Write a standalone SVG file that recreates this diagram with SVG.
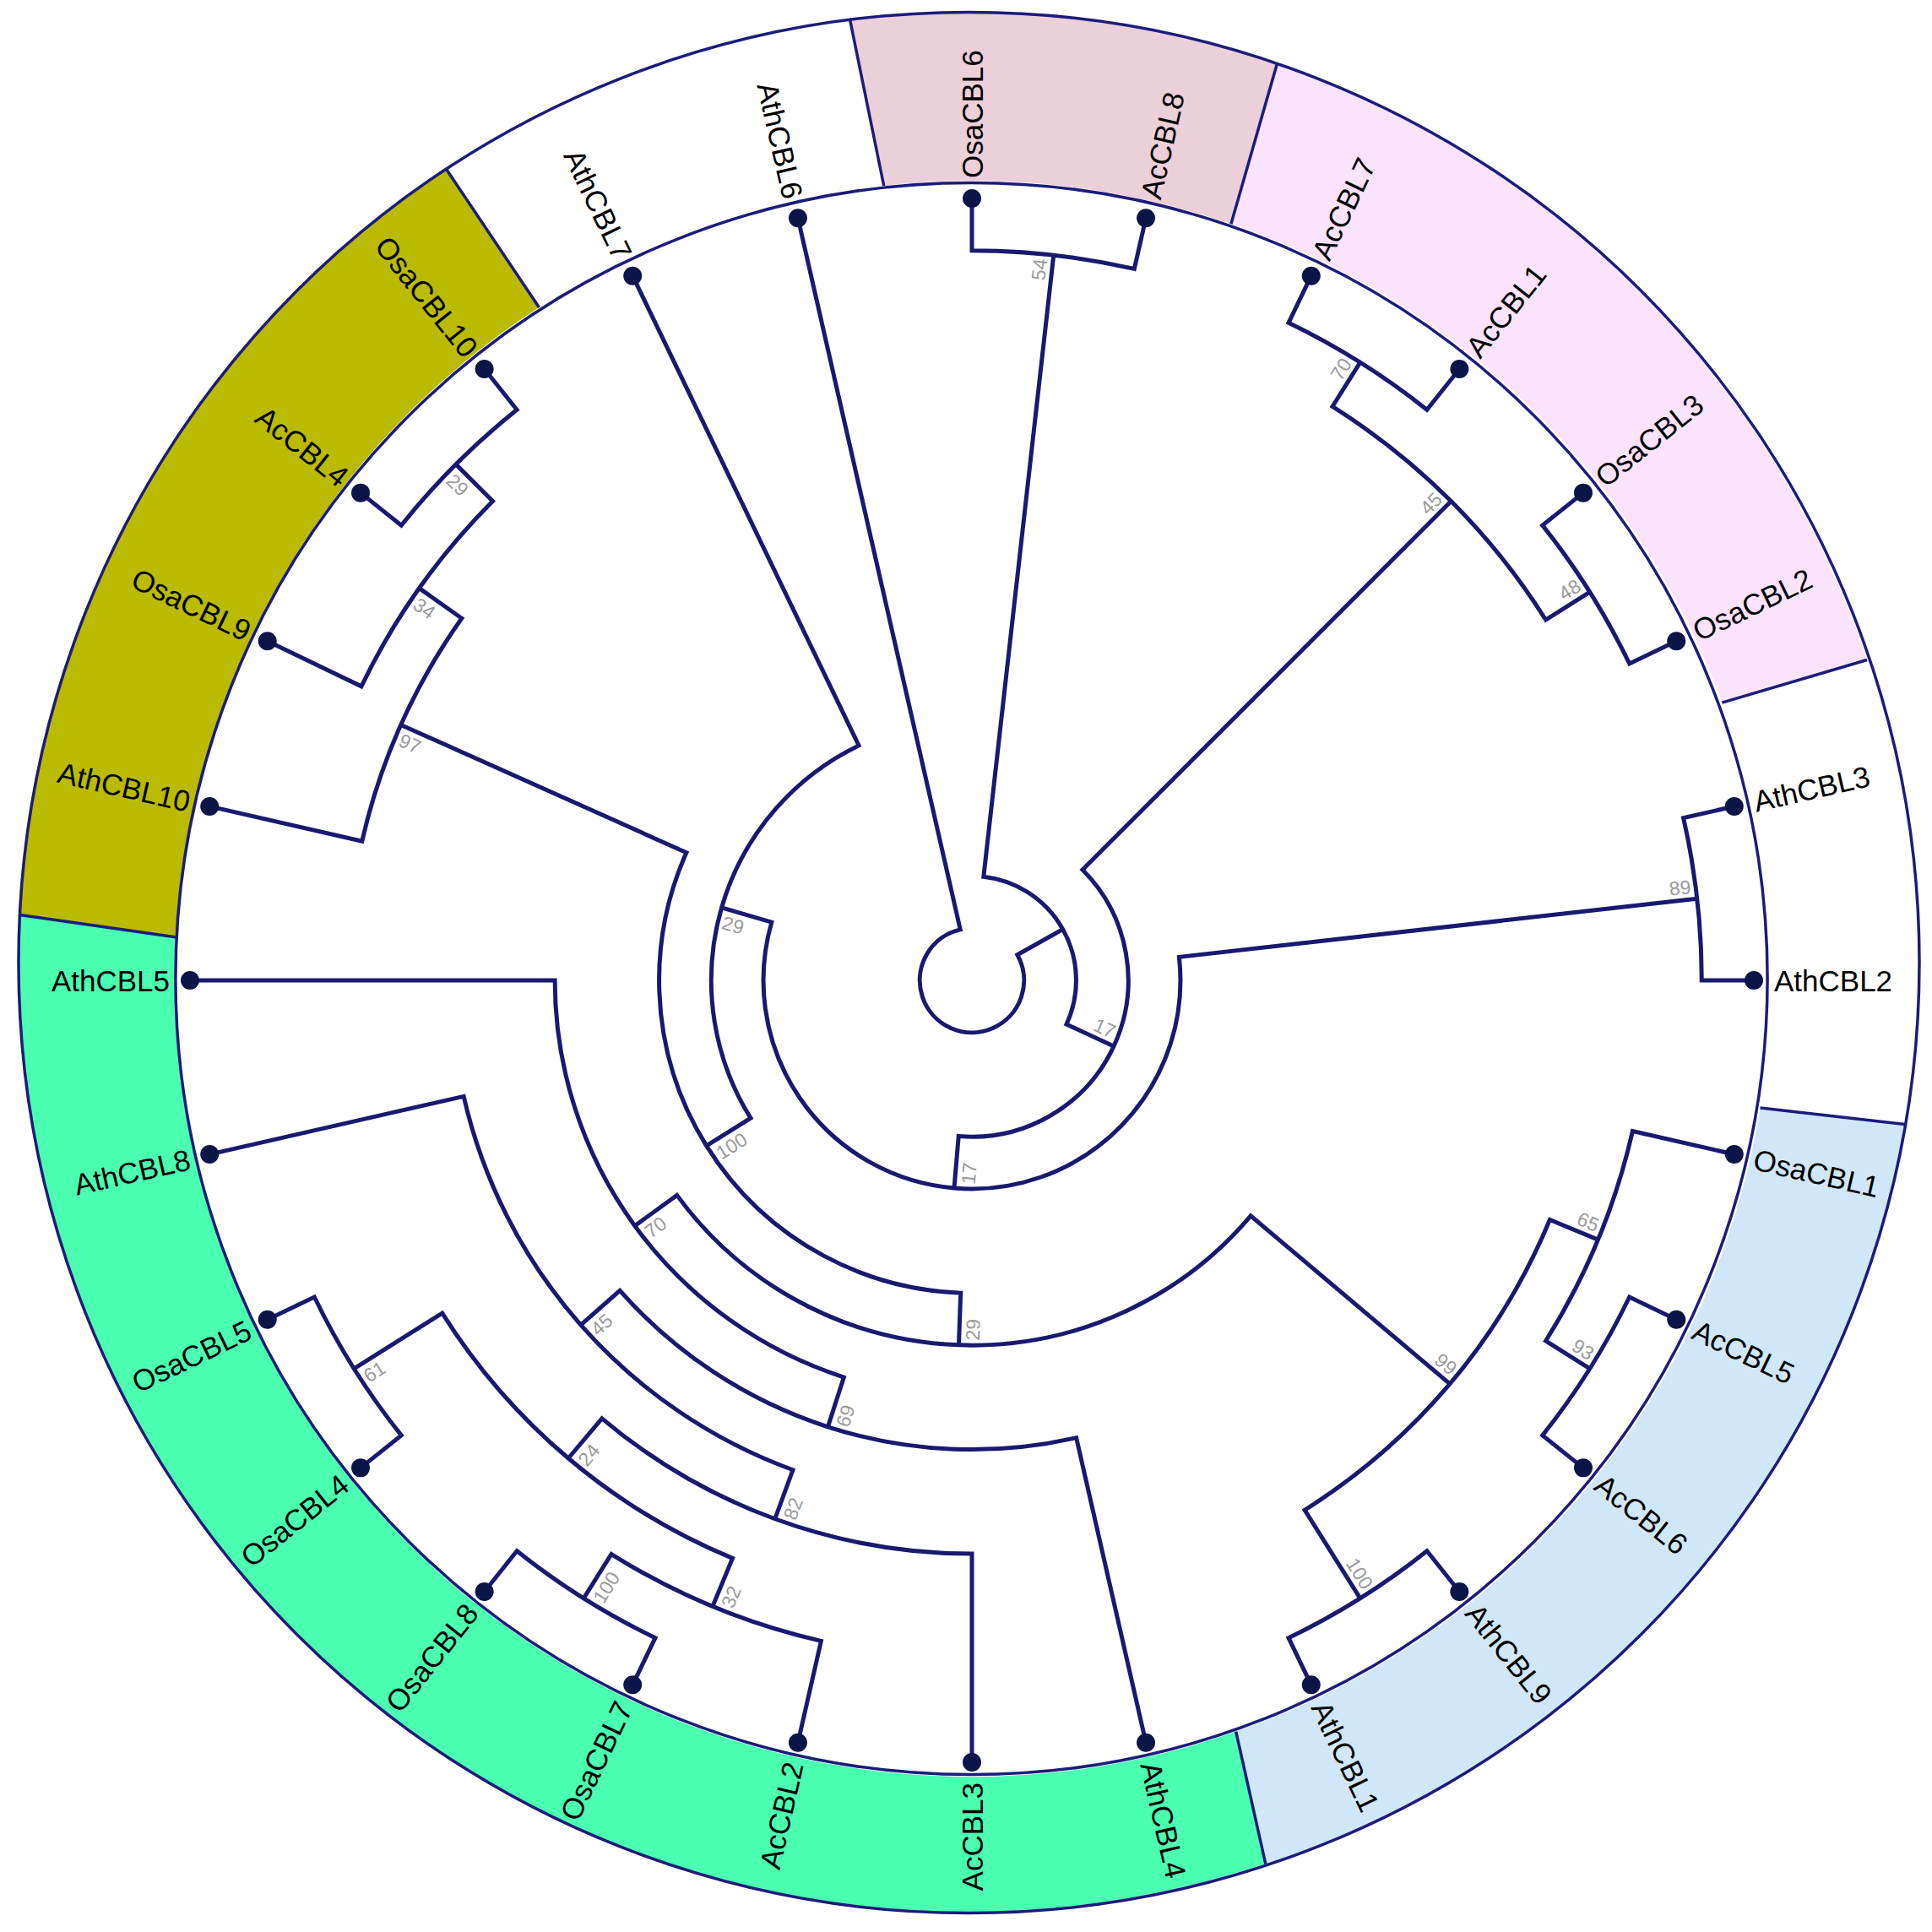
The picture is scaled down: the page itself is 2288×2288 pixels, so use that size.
<svg xmlns="http://www.w3.org/2000/svg" width="2288" height="2288" viewBox="0 0 2288 2288">
<style>
.ring{fill:none;stroke:#1c1c7a;stroke-width:3.5}
.bd{stroke:#1c1c7a;stroke-width:3.5}
.br{fill:none;stroke:#191970;stroke-width:5;stroke-linejoin:miter}
.dot{fill:#0c1548}
.lab{font-family:"Liberation Sans",Arial,sans-serif;font-size:35px;fill:#000}
.ls{text-anchor:end}
.bs{font-family:"Liberation Sans",Arial,sans-serif;font-size:23px;fill:#9a9a9a}
.be{text-anchor:end}
</style>
<rect width="2288" height="2288" fill="#ffffff"/>
<g id="ring">
<path d="M1046.7 220 A942.6 942.6 0 0 1 1457.9 265.2 L1512.4 75.4 A1125.5 1125.5 0 0 0 1006.3 21.9 Z" fill="#EBCFD9"/>
<path d="M1457.9 265.2 A942.6 942.6 0 0 1 2039.4 832.1 L2211 781.5 A1125.5 1125.5 0 0 0 1512.4 75.4 Z" fill="#FAE3FC"/>
<path d="M2084.6 1311.9 A942.6 942.6 0 0 1 1463.7 2050.6 L1498.8 2207.3 A1125.5 1125.5 0 0 0 2255.9 1331.4 Z" fill="#D0E7F9"/>
<path d="M1463.7 2050.6 A942.6 942.6 0 0 1 209.2 1110 L21.9 1083.2 A1125.5 1125.5 0 0 0 1498.8 2207.3 Z" fill="#4BFFB1"/>
<path d="M209.2 1110 A942.6 942.6 0 0 1 638.4 364 L528 199.5 A1125.5 1125.5 0 0 0 21.9 1083.2 Z" fill="#BABA00"/>
<circle class="ring" cx="1150.5" cy="1159" r="942.6"/>
<circle class="ring" cx="1147.5" cy="1140" r="1125.5"/>
<line class="bd" x1="638.4" y1="364" x2="528" y2="199.5"/>
<line class="bd" x1="1046.7" y1="220" x2="1006.3" y2="21.9"/>
<line class="bd" x1="1457.9" y1="265.2" x2="1512.4" y2="75.4"/>
<line class="bd" x1="2039.4" y1="832.1" x2="2211" y2="781.5"/>
<line class="bd" x1="2084.6" y1="1311.9" x2="2255.9" y2="1331.4"/>
<line class="bd" x1="1463.7" y1="2050.6" x2="1498.8" y2="2207.3"/>
<line class="bd" x1="209.2" y1="1110" x2="21.9" y2="1083.2"/>
</g>
<g id="connectors" transform="translate(1151 1161)">
<path class="br" d="M0 -926 L0 -864.27 A864.27 864.27 0 0 1 192.32 -842.6 L206.05 -902.78"/>
<path class="br" d="M401.78 -834.3 L374.99 -778.68 A864.27 864.27 0 0 1 538.86 -675.71 L577.35 -723.98"/>
<path class="br" d="M723.98 -577.35 L675.71 -538.86 A864.27 864.27 0 0 1 778.68 -374.99 L834.3 -401.78"/>
<path class="br" d="M459.82 -731.8 L426.97 -679.52 A802.53 802.53 0 0 1 679.52 -426.97 L731.8 -459.82"/>
<path class="br" d="M902.78 -206.05 L842.6 -192.32 A864.27 864.27 0 0 1 864.27 0 L926 0"/>
<path class="br" d="M834.3 401.78 L778.68 374.99 A864.27 864.27 0 0 1 675.71 538.86 L723.98 577.35"/>
<path class="br" d="M902.78 206.05 L782.41 178.58 A802.53 802.53 0 0 1 679.52 426.97 L731.8 459.82"/>
<path class="br" d="M577.35 723.98 L538.86 675.71 A864.27 864.27 0 0 1 374.99 778.68 L401.78 834.3"/>
<path class="br" d="M741.44 307.11 L684.41 283.49 A740.8 740.8 0 0 1 394.13 627.25 L459.82 731.8"/>
<path class="br" d="M-401.78 834.3 L-374.99 778.68 A864.27 864.27 0 0 1 -538.86 675.71 L-577.35 723.98"/>
<path class="br" d="M-206.05 902.78 L-178.58 782.41 A802.53 802.53 0 0 1 -426.97 679.52 L-459.82 731.8"/>
<path class="br" d="M-723.98 577.35 L-675.71 538.86 A864.27 864.27 0 0 1 -778.68 374.99 L-834.3 401.78"/>
<path class="br" d="M-307.11 741.44 L-283.49 684.41 A740.8 740.8 0 0 1 -627.25 394.13 L-731.8 459.82"/>
<path class="br" d="M0 926 L0 679.07 A679.07 679.07 0 0 1 -438.12 518.84 L-477.95 566"/>
<path class="br" d="M-233.25 637.76 L-212.04 579.77 A617.33 617.33 0 0 1 -601.85 137.37 L-902.78 206.05"/>
<path class="br" d="M206.05 902.78 L123.63 541.67 A555.6 555.6 0 0 1 -416.87 367.31 L-463.18 408.12"/>
<path class="br" d="M-170.58 528.77 L-151.63 470.02 A493.87 493.87 0 0 1 -493.87 0 L-926 0"/>
<path class="br" d="M566 477.95 L330.17 278.8 A432.13 432.13 0 0 1 -349.33 254.37 L-399.24 290.71"/>
<path class="br" d="M-723.98 -577.35 L-675.71 -538.86 A864.27 864.27 0 0 1 -538.86 -675.71 L-577.35 -723.98"/>
<path class="br" d="M-834.3 -401.78 L-723.05 -348.2 A802.53 802.53 0 0 1 -567.47 -567.47 L-611.13 -611.13"/>
<path class="br" d="M-902.78 -206.05 L-722.23 -164.84 A740.8 740.8 0 0 1 -604.17 -428.68 L-654.51 -464.4"/>
<path class="br" d="M-15.53 431.85 L-13.31 370.16 A370.4 370.4 0 0 1 -338.1 -151.29 L-676.19 -302.58"/>
<path class="br" d="M-314.4 195.83 L-262.01 163.19 A308.67 308.67 0 0 1 -133.93 -278.1 L-401.78 -834.3"/>
<path class="br" d="M858.84 -96.77 L245.38 -27.65 A246.93 246.93 0 1 1 -237.15 -68.83 L-296.44 -86.04"/>
<path class="br" d="M567.47 -567.47 L130.96 -130.96 A185.2 185.2 0 0 1 -15.75 184.53 L-21 246.04"/>
<path class="br" d="M96.77 -858.84 L13.82 -122.69 A123.47 123.47 0 0 1 111.96 52.06 L167.93 78.09"/>
<path class="br" d="M107.66 -60.45 L53.82 -30.22 A61.73 61.73 0 1 1 -13.74 -60.18 L-206.05 -902.78"/>
</g>
<g id="bootstrap" transform="translate(1151 1161)">
<text class="bs be" transform="rotate(-83.5714)" x="858.3" y="-7">54</text>
<text class="bs be" transform="rotate(-57.8571)" x="858.3" y="-7">70</text>
<text class="bs be" transform="rotate(-32.1429)" x="858.3" y="-7">48</text>
<text class="bs be" transform="rotate(-45)" x="796.5" y="-7">45</text>
<text class="bs be" transform="rotate(-6.4286)" x="858.3" y="-7">89</text>
<text class="bs be" transform="rotate(32.1429)" x="858.3" y="-7">93</text>
<text class="bs be" transform="rotate(22.5)" x="796.5" y="-7">65</text>
<text class="bs be" transform="rotate(57.8571)" x="858.3" y="-7">100</text>
<text class="bs be" transform="rotate(40.1786)" x="734.8" y="-7">99</text>
<text class="bs be" transform="rotate(24.939)" x="179.2" y="-7">17</text>
<text class="bs" transform="rotate(-85.1221)" x="-240.9" y="24">17</text>
<text class="bs" transform="rotate(-87.9408)" x="-426.1" y="24">29</text>
<text class="bs" transform="rotate(-36.0602)" x="-487.9" y="24">70</text>
<text class="bs" transform="rotate(-72.1205)" x="-549.6" y="24">69</text>
<text class="bs" transform="rotate(-41.3839)" x="-611.3" y="24">45</text>
<text class="bs" transform="rotate(-69.9107)" x="-673.1" y="24">82</text>
<text class="bs" transform="rotate(-49.8214)" x="-734.8" y="24">24</text>
<text class="bs" transform="rotate(-67.5)" x="-796.5" y="24">32</text>
<text class="bs" transform="rotate(-57.8571)" x="-858.3" y="24">100</text>
<text class="bs" transform="rotate(-32.1429)" x="-858.3" y="24">61</text>
<text class="bs" transform="rotate(-31.9168)" x="-364.4" y="24">100</text>
<text class="bs" transform="rotate(16.1844)" x="-302.7" y="24">29</text>
<text class="bs" transform="rotate(24.1071)" x="-734.8" y="24">97</text>
<text class="bs" transform="rotate(35.3571)" x="-796.5" y="24">34</text>
<text class="bs" transform="rotate(45)" x="-858.3" y="24">29</text>
</g>
<g id="nodes" transform="translate(1151 1161)">
<g id="AthCBL2"><circle class="dot" cx="926" cy="0" r="11"/><text class="lab" transform="rotate(0)" x="950" y="12.5">AthCBL2</text></g>
<g id="OsaCBL1"><circle class="dot" cx="902.78" cy="206.05" r="11"/><text class="lab" transform="rotate(12.857)" x="950" y="12.5">OsaCBL1</text></g>
<g id="AcCBL5"><circle class="dot" cx="834.3" cy="401.78" r="11"/><text class="lab" transform="rotate(25.714)" x="950" y="12.5">AcCBL5</text></g>
<g id="AcCBL6"><circle class="dot" cx="723.98" cy="577.35" r="11"/><text class="lab" transform="rotate(38.571)" x="950" y="12.5">AcCBL6</text></g>
<g id="AthCBL9"><circle class="dot" cx="577.35" cy="723.98" r="11"/><text class="lab" transform="rotate(51.429)" x="950" y="12.5">AthCBL9</text></g>
<g id="AthCBL1"><circle class="dot" cx="401.78" cy="834.3" r="11"/><text class="lab" transform="rotate(64.286)" x="950" y="12.5">AthCBL1</text></g>
<g id="AthCBL4"><circle class="dot" cx="206.05" cy="902.78" r="11"/><text class="lab" transform="rotate(77.143)" x="950" y="12.5">AthCBL4</text></g>
<g id="AcCBL3"><circle class="dot" cx="0" cy="926" r="11"/><text class="lab ls" transform="rotate(-90)" x="-950" y="12.5">AcCBL3</text></g>
<g id="AcCBL2"><circle class="dot" cx="-206.05" cy="902.78" r="11"/><text class="lab ls" transform="rotate(-77.143)" x="-950" y="12.5">AcCBL2</text></g>
<g id="OsaCBL7"><circle class="dot" cx="-401.78" cy="834.3" r="11"/><text class="lab ls" transform="rotate(-64.286)" x="-950" y="12.5">OsaCBL7</text></g>
<g id="OsaCBL8"><circle class="dot" cx="-577.35" cy="723.98" r="11"/><text class="lab ls" transform="rotate(-51.429)" x="-950" y="12.5">OsaCBL8</text></g>
<g id="OsaCBL4"><circle class="dot" cx="-723.98" cy="577.35" r="11"/><text class="lab ls" transform="rotate(-38.571)" x="-950" y="12.5">OsaCBL4</text></g>
<g id="OsaCBL5"><circle class="dot" cx="-834.3" cy="401.78" r="11"/><text class="lab ls" transform="rotate(-25.714)" x="-950" y="12.5">OsaCBL5</text></g>
<g id="AthCBL8"><circle class="dot" cx="-902.78" cy="206.05" r="11"/><text class="lab ls" transform="rotate(-12.857)" x="-950" y="12.5">AthCBL8</text></g>
<g id="AthCBL5"><circle class="dot" cx="-926" cy="0" r="11"/><text class="lab ls" transform="rotate(0)" x="-950" y="12.5">AthCBL5</text></g>
<g id="AthCBL10"><circle class="dot" cx="-902.78" cy="-206.05" r="11"/><text class="lab ls" transform="rotate(12.857)" x="-950" y="12.5">AthCBL10</text></g>
<g id="OsaCBL9"><circle class="dot" cx="-834.3" cy="-401.78" r="11"/><text class="lab ls" transform="rotate(25.714)" x="-950" y="12.5">OsaCBL9</text></g>
<g id="AcCBL4"><circle class="dot" cx="-723.98" cy="-577.35" r="11"/><text class="lab ls" transform="rotate(38.571)" x="-950" y="12.5">AcCBL4</text></g>
<g id="OsaCBL10"><circle class="dot" cx="-577.35" cy="-723.98" r="11"/><text class="lab ls" transform="rotate(51.429)" x="-950" y="12.5">OsaCBL10</text></g>
<g id="AthCBL7"><circle class="dot" cx="-401.78" cy="-834.3" r="11"/><text class="lab ls" transform="rotate(64.286)" x="-950" y="12.5">AthCBL7</text></g>
<g id="AthCBL6"><circle class="dot" cx="-206.05" cy="-902.78" r="11"/><text class="lab ls" transform="rotate(77.143)" x="-950" y="12.5">AthCBL6</text></g>
<g id="OsaCBL6"><circle class="dot" cx="0" cy="-926" r="11"/><text class="lab" transform="rotate(-90)" x="950" y="12.5">OsaCBL6</text></g>
<g id="AcCBL8"><circle class="dot" cx="206.05" cy="-902.78" r="11"/><text class="lab" transform="rotate(-77.143)" x="950" y="12.5">AcCBL8</text></g>
<g id="AcCBL7"><circle class="dot" cx="401.78" cy="-834.3" r="11"/><text class="lab" transform="rotate(-64.286)" x="950" y="12.5">AcCBL7</text></g>
<g id="AcCBL1"><circle class="dot" cx="577.35" cy="-723.98" r="11"/><text class="lab" transform="rotate(-51.429)" x="950" y="12.5">AcCBL1</text></g>
<g id="OsaCBL3"><circle class="dot" cx="723.98" cy="-577.35" r="11"/><text class="lab" transform="rotate(-38.571)" x="950" y="12.5">OsaCBL3</text></g>
<g id="OsaCBL2"><circle class="dot" cx="834.3" cy="-401.78" r="11"/><text class="lab" transform="rotate(-25.714)" x="950" y="12.5">OsaCBL2</text></g>
<g id="AthCBL3"><circle class="dot" cx="902.78" cy="-206.05" r="11"/><text class="lab" transform="rotate(-12.857)" x="950" y="12.5">AthCBL3</text></g>
</g>
</svg>
